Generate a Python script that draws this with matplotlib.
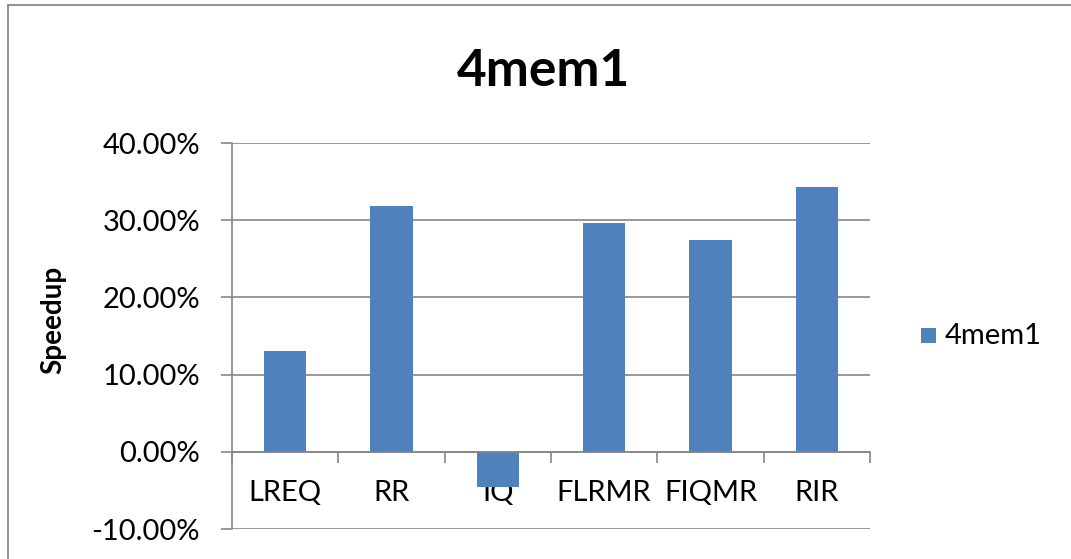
import matplotlib
matplotlib.use("Agg")
import matplotlib.pyplot as plt
from matplotlib.patches import Rectangle
from matplotlib.ticker import FuncFormatter

categories = ["LREQ", "RR", "IQ", "FLRMR", "FIQMR", "RIR"]
speedup = [0.130, 0.318, -0.045, 0.296, 0.274, 0.343]
series_name = "4mem1"
title = "4mem1"
ylabel = "Speedup"

bar_color = "#4F81BD"
grid_color = "#868686"
font = ["Lato", "DejaVu Sans"]

fig = plt.figure(figsize=(10.71, 5.59), dpi=100)
W, H = 1071, 559

# outer chart border
fig.patches.append(Rectangle((8 / W, -0.1), 1.2, 1 - 5 / H + 0.1, transform=fig.transFigure,
                             fill=False, edgecolor="#7f7f7f", linewidth=1.2))

ax = fig.add_axes([232 / W, 1 - 529 / H, (870 - 232) / W, (529 - 143) / H])
ax.set_facecolor("none")

x = list(range(len(categories)))
ax.bar(x, speedup, width=0.4, color=bar_color, zorder=3)

ax.set_xlim(-0.5, len(categories) - 0.5)
ax.set_ylim(-0.10, 0.40)
ax.set_yticks([-0.1, 0.0, 0.1, 0.2, 0.3, 0.4])
ax.yaxis.set_major_formatter(FuncFormatter(lambda v, p: f"{v * 100:.2f}%"))
ax.grid(axis="y", color=grid_color, linewidth=1.2, zorder=1)

for side in ("top", "right"):
    ax.spines[side].set_visible(False)
ax.spines["left"].set_color(grid_color)
ax.spines["left"].set_linewidth(1.2)
ax.spines["bottom"].set_position(("data", 0))
ax.spines["bottom"].set_color(grid_color)
ax.spines["bottom"].set_linewidth(1.2)
ax.spines["bottom"].set_zorder(4)

ax.tick_params(axis="y", direction="out", length=8, width=1.2, color=grid_color,
               labelsize=21, pad=15)
for lbl in ax.get_yticklabels():
    lbl.set_fontfamily(font)

# category boundaries as major ticks, names centred on minor ticks
ax.set_xticks([i - 0.5 for i in range(len(categories) + 1)])
ax.set_xticklabels([])
ax.tick_params(axis="x", which="major", direction="out", length=8, width=1.2, color=grid_color)
ax.set_xticks(x, minor=True)
ax.set_xticklabels(categories, minor=True, fontsize=21, fontfamily=font)
ax.tick_params(axis="x", which="minor", length=0, pad=20)
for lbl in ax.get_xticklabels(minor=True):
    lbl.set_zorder(5)

fig.text(53 / W, 1 - 320 / H, ylabel, rotation=90, ha="center", va="center",
         fontsize=20, fontweight="bold", fontfamily=font)
fig.text(543 / W, 1 - 72 / H, title, ha="center", va="center",
         fontsize=37, fontweight="bold", fontfamily=font)

# legend
fig.patches.append(Rectangle((921 / W, 1 - 343 / H), 15 / W, 15 / H,
                             transform=fig.transFigure, facecolor=bar_color, edgecolor="none"))
fig.text(945 / W, 1 - 336 / H, series_name, ha="left", va="center",
         fontsize=21, fontfamily=font)

fig.savefig("out.png", dpi=100)
